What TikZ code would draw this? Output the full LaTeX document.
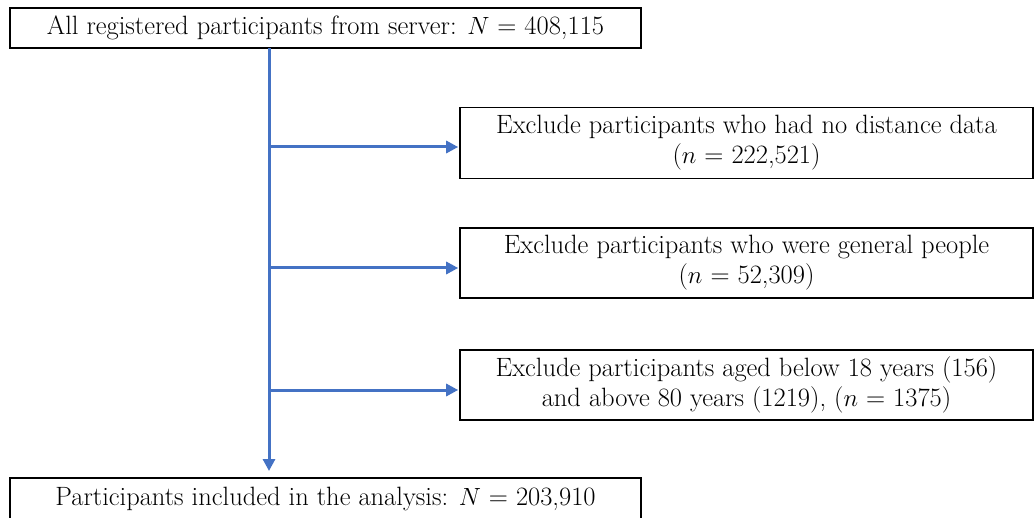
\documentclass[tikz,border=0pt]{standalone}
\usetikzlibrary{arrows.meta,calc}
\definecolor{flowblue}{HTML}{4472C4}
\begin{document}
\begin{tikzpicture}[x=1pt,y=1pt,
  box/.style={draw=black,line width=1.6pt,inner sep=0pt,align=center,font=\fontsize{26.5}{30}\selectfont},
  flow/.style={draw=flowblue,line width=3pt,-{Triangle[length=12pt,width=12pt]}}]
\useasboundingbox (0,0) rectangle (1035,-518);
\node[box,minimum width=631pt,minimum height=40pt] (top) at (325.5,-28) {All registered participants from server: $N$ = 408,115};
\node[box,minimum width=631pt,minimum height=42pt] (bot) at (325.5,-499) {Participants included in the analysis: $N$ = 203,910};
\node[box,minimum width=573pt,minimum height=71pt] (b1) at (746.5,-143) {Exclude participants who had no distance data\\($n$ = 222,521)};
\node[box,minimum width=573pt,minimum height=70pt] (b2) at (746.5,-263) {Exclude participants who were general people\\($n$ = 52,309)};
\node[box,minimum width=573pt,minimum height=70pt] (b3) at (746.5,-385) {Exclude participants aged below 18 years (156)\\and above 80 years (1219), ($n$ = 1375)};
\coordinate (s0) at (269,-48);
\coordinate (j1) at (269,-147);
\coordinate (j2) at (269,-268);
\coordinate (j3) at (269,-390);
\coordinate (s1) at (269,-478);
\draw[flow,shorten >=7pt] (s0) -- (s1);
\draw[flow,shorten >=1pt] (j1) -- (j1 -| b1.west);
\draw[flow,shorten >=1pt] (j2) -- (j2 -| b2.west);
\draw[flow,shorten >=1pt] (j3) -- (j3 -| b3.west);
\end{tikzpicture}
\end{document}
